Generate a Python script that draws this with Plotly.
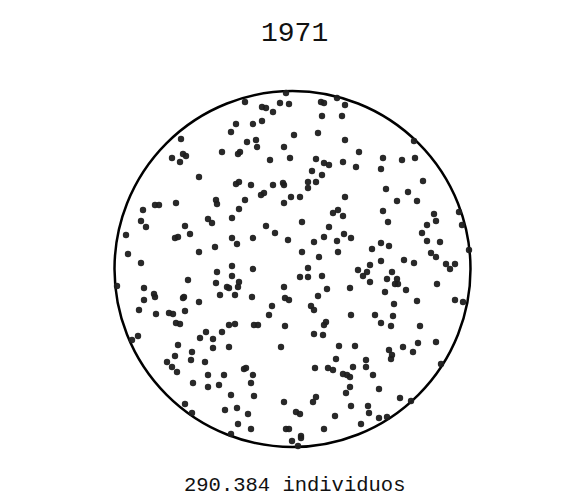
import plotly.graph_objects as go

# Dot positions (horizontal, vertical; vertical grows downward)
X = [231,181,183,186,172,180,222,199,216,155,159,176,217,
     286,245,262,266,280,289,321,324,337,345,273,322,342,236,253,262,294,318,247,256,257,284,345,240,238,270,290,316,324,329,343,312,322,236,239,251,273,283,284,308,308,316,261,264,245,291,300,345,284,
     414,359,383,402,415,356,381,423,386,408,397,417,
     143,141,146,185,208,212,232,126,175,178,190,232,128,199,215,141,232,188,217,232,216,227,229,117,144,154,155,144,183,184,199,220,139,156,169,173,185,176,180,229,
     239,266,275,302,333,338,343,329,237,253,288,314,324,337,344,351,302,319,338,253,308,239,238,300,308,322,235,252,284,285,289,327,318,350,272,311,314,269,351,235,254,258,285,326,324,
     383,388,434,436,427,459,462,422,381,389,372,427,440,431,436,469,381,404,414,370,358,367,363,392,387,397,395,398,370,446,450,455,437,385,406,394,417,455,463,375,393,381,391,420,
     138,132,206,222,200,213,178,213,229,192,175,191,167,172,205,177,208,224,193,208,219,231,185,192,225,231,
     314,323,281,339,336,244,246,253,315,328,333,343,347,350,251,350,254,316,313,284,346,237,248,296,300,335,351,238,251,286,289,324,301,301,292,298,
     355,389,392,391,403,413,418,436,441,366,366,353,373,379,400,411,368,369,379,387,361]
Y = [132,139,154,156,158,162,152,177,200,205,205,203,204,
     93,102,107,108,103,104,102,103,98,105,112,116,116,124,124,121,135,133,142,140,147,147,140,152,154,160,158,159,163,165,162,171,175,184,182,185,185,183,185,182,188,182,195,193,200,197,197,197,203,
     141,152,158,160,158,167,169,181,189,192,201,201,
     210,221,227,226,219,223,218,235,238,237,234,238,254,252,247,263,266,280,272,276,283,287,288,286,288,294,297,300,298,297,302,295,310,314,313,314,311,323,324,325,
     209,226,233,222,213,210,216,227,244,238,240,242,237,241,234,238,252,257,252,269,268,282,287,277,277,276,295,297,287,298,300,289,296,288,306,306,310,315,315,324,325,325,326,322,325,
     211,222,214,221,225,212,225,233,243,246,249,241,242,253,257,250,261,260,263,265,270,272,276,272,279,279,284,284,282,264,269,264,284,292,290,304,301,300,302,315,316,323,326,326,
     336,340,332,332,338,339,345,348,347,352,356,360,362,367,362,372,375,375,383,387,385,395,404,413,410,434,
     334,335,347,346,359,369,368,375,368,368,370,374,375,377,383,387,396,397,402,402,393,408,414,412,414,416,406,424,429,429,429,429,436,438,441,446,
     346,350,355,359,347,352,343,342,364,360,367,367,375,389,398,401,406,413,418,417,424]

CIRCLE_CX, CIRCLE_CY, CIRCLE_R = 292.5, 269, 178
YEAR = "1971"
CAPTION = "290.384 individuos"

fig = go.Figure()
fig.add_trace(go.Scatter(
    x=X, y=Y, mode="markers",
    marker=dict(size=6.4, color="#1e1e1e", opacity=0.95, line=dict(width=0)),
    hoverinfo="skip", showlegend=False,
))
fig.add_shape(type="circle", xref="x", yref="y",
              x0=CIRCLE_CX - CIRCLE_R, x1=CIRCLE_CX + CIRCLE_R,
              y0=CIRCLE_CY - CIRCLE_R, y1=CIRCLE_CY + CIRCLE_R,
              line=dict(color="#000000", width=2.5), layer="below")
fig.add_annotation(text=YEAR, x=0.5, y=1 - 34 / 504, xref="paper", yref="paper",
                   showarrow=False, xanchor="center", yanchor="middle",
                   font=dict(family="Liberation Mono, DejaVu Sans Mono, monospace", size=28, color="#111111"))
fig.add_annotation(text=CAPTION, x=0.5, y=1 - 485 / 504, xref="paper", yref="paper",
                   showarrow=False, xanchor="center", yanchor="middle",
                   font=dict(family="Liberation Mono, DejaVu Sans Mono, monospace", size=20.5, color="#111111"))
fig.update_layout(
    width=588, height=504, margin=dict(l=0, r=0, t=0, b=0),
    paper_bgcolor="white", plot_bgcolor="white",
    xaxis=dict(range=[0, 588], visible=False, fixedrange=True),
    yaxis=dict(range=[504, 0], visible=False, fixedrange=True),
)
fig.write_html("out.html", config={"displayModeBar": False})
